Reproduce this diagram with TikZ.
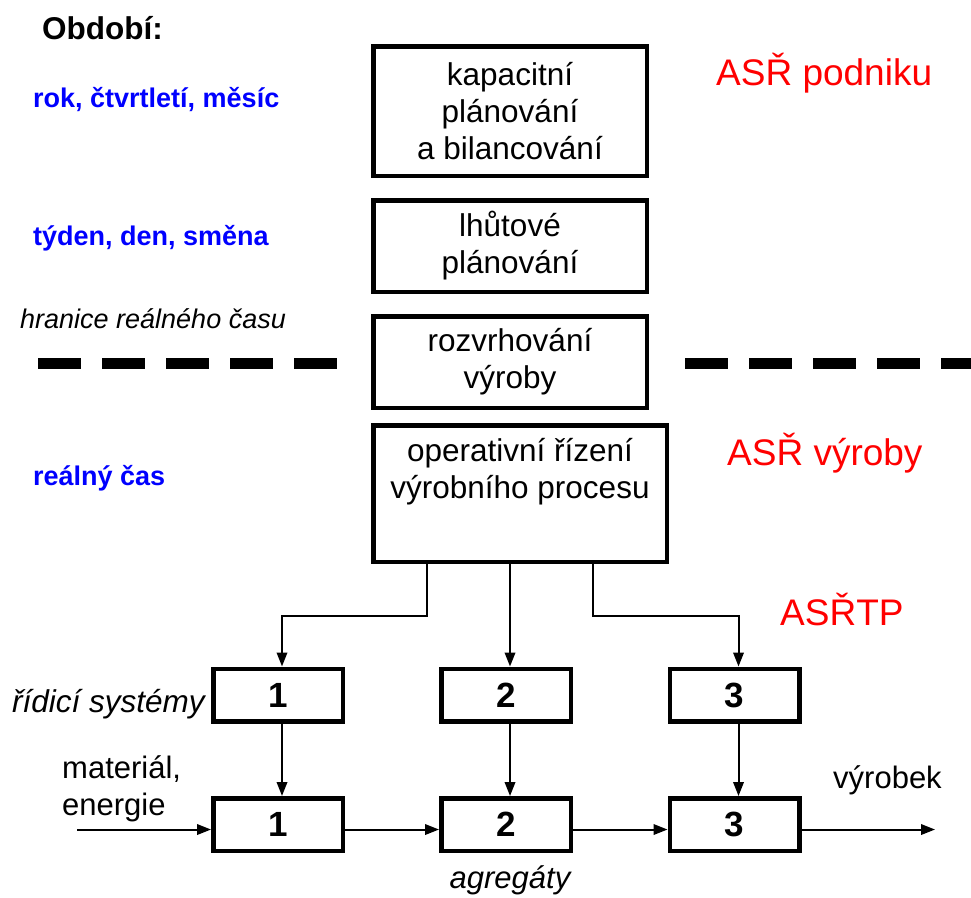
\documentclass[tikz,border=0pt]{standalone}
\usepackage{fontspec}
\setmainfont{Liberation Sans}
\usetikzlibrary{arrows.meta}

\tikzset{
  frame/.style={draw, line width=4.5pt, inner sep=0pt, align=center,
    font=\fontsize{31.5pt}{37pt}\selectfont},
  numbox/.style={draw, line width=4.5pt, inner sep=0pt,
    minimum width=129.5pt, minimum height=52.5pt,
    font=\fontsize{35pt}{40pt}\selectfont\bfseries},
  conn/.style={line width=2pt, -{Triangle[length=14pt,width=10.5pt]}},
  txt/.style={inner sep=0pt, font=\fontsize{31pt}{37pt}\selectfont},
  period/.style={inner sep=0pt, anchor=base west, text=blue,
    font=\fontsize{27pt}{32pt}\selectfont\bfseries},
  level/.style={inner sep=0pt, anchor=base west, text=red,
    font=\fontsize{37pt}{44pt}\selectfont},
  boundary/.style={line width=11pt, dash pattern=on 43pt off 21pt}
}

\begin{document}
\begin{tikzpicture}[x=1pt, y=-1pt]
\useasboundingbox (0,0) rectangle (971,897);

% time horizons
\node[txt, anchor=base west, font=\fontsize{31.5pt}{37pt}\selectfont\bfseries] (obdobi) at (42,39) {Období:};
\node[period] (p1) at (33,107) {rok, čtvrtletí, měsíc};
\node[period] (p2) at (33,245) {týden, den, směna};
\node[txt, anchor=base west, font=\fontsize{27pt}{32pt}\selectfont\itshape] (hranice) at (20,328) {hranice reálného času};
\node[period] (p3) at (33,485) {reálný čas};

% real-time boundary
\draw[boundary] (38,363) -- (337,363);
\draw[boundary] (685,363) -- (971,363);

% planning hierarchy
\node[frame, minimum width=273.5pt, minimum height=129.5pt] (A) at (510,111) {kapacitní\\plánování\\a bilancování};
\node[frame, minimum width=273.5pt, minimum height=91.5pt] (B) at (510,246) {lhůtové\\plánování};
\node[frame, minimum width=273.5pt, minimum height=91.5pt] (C) at (510,362) {rozvrhování\\výroby};
\node[frame, minimum width=293.5pt, minimum height=136.5pt] (D) at (520,493.5) {};
\node[txt, align=center, font=\fontsize{31.5pt}{37pt}\selectfont] (Dtext) at (520,472) {operativní řízení\\výrobního procesu};

% control level names
\node[level] (asrp) at (716,85) {ASŘ podniku};
\node[level] (asrv) at (727,465) {ASŘ výroby};
\node[level] (asrtp) at (780,625) {ASŘTP};

% control systems
\node[numbox] (C1) at (278,695) {1};
\node[numbox] (C2) at (506,695) {2};
\node[numbox] (C3) at (734.5,695) {3};
\node[txt, anchor=base west, font=\fontsize{31.5pt}{37pt}\selectfont\itshape] (ridici) at (12,712) {řídicí systémy};

% aggregates
\node[numbox] (P1) at (278,824.5) {1};
\node[numbox] (P2) at (506,824.5) {2};
\node[numbox] (P3) at (734.5,824.5) {3};
\node[txt, anchor=base] (agregaty) at (510,888) {\itshape agregáty};

% flow labels
\node[txt, anchor=base west] (mat) at (62,778) {materiál,};
\node[txt, anchor=base west] (ene) at (62,815) {energie};
\node[txt, anchor=base west] (vyrobek) at (833,788) {výrobek};

% commands from the operative control
\draw[conn] ([xshift=-93pt]D.south) -- ++(0,52) -| ([xshift=4pt]C1.north);
\draw[conn] ([xshift=-10pt]D.south) -- ([xshift=4pt]C2.north);
\draw[conn] ([xshift=73pt]D.south) -- ++(0,52) -| ([xshift=4pt]C3.north);

% control systems act on aggregates
\draw[conn] ([xshift=4pt]C1.south) -- ([xshift=4pt]P1.north);
\draw[conn] ([xshift=4pt]C2.south) -- ([xshift=4pt]P2.north);
\draw[conn] ([xshift=4pt]C3.south) -- ([xshift=4pt]P3.north);

% material flow
\coordinate (in) at (77,829.5);
\coordinate (out) at (935,829.5);
\draw[conn] (in) -- ([yshift=-5pt]P1.west);
\draw[conn] ([yshift=-5pt]P1.east) -- ([yshift=-5pt]P2.west);
\draw[conn] ([yshift=-5pt]P2.east) -- ([yshift=-5pt]P3.west);
\draw[conn] ([yshift=-5pt]P3.east) -- (out);
\end{tikzpicture}
\end{document}
